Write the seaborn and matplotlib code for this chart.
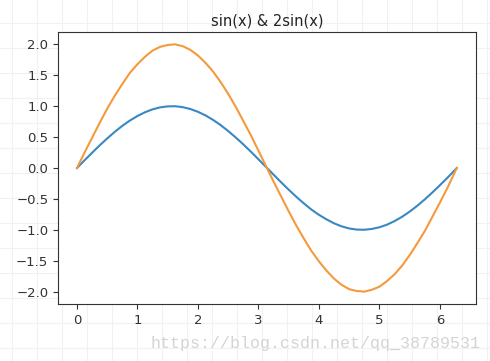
import matplotlib
matplotlib.use("Agg")
import matplotlib.pyplot as plt
from matplotlib.lines import Line2D
import pandas as pd
import seaborn as sns

# values
x_vals = [0.0, 0.125, 0.25, 0.375, 0.5, 0.625, 0.75, 0.875, 1.0, 1.125, 1.25, 1.375,
          1.5, 1.625, 1.75, 1.875, 2.0, 2.125, 2.25, 2.375, 2.5, 2.625, 2.75, 2.875,
          3.0, 3.125, 3.25, 3.375, 3.5, 3.625, 3.75, 3.875, 4.0, 4.125, 4.25, 4.375,
          4.5, 4.625, 4.75, 4.875, 5.0, 5.125, 5.25, 5.375, 5.5, 5.625, 5.75, 5.875,
          6.0, 6.125, 6.28]
sin_vals = [0.0, 0.125, 0.247, 0.366, 0.479, 0.585, 0.682, 0.768, 0.841, 0.902,
            0.949, 0.981, 0.997, 0.999, 0.984, 0.954, 0.909, 0.850, 0.778, 0.694,
            0.598, 0.493, 0.382, 0.264, 0.141, 0.017, -0.108, -0.231, -0.351,
            -0.465, -0.572, -0.672, -0.757, -0.831, -0.895, -0.944, -0.978, -0.996,
            -0.999, -0.986, -0.959, -0.917, -0.859, -0.789, -0.706, -0.612, -0.508,
            -0.396, -0.279, -0.158, 0.0]
sin2_vals = [0.0, 0.25, 0.49, 0.73, 0.96, 1.17, 1.36, 1.54, 1.68, 1.80, 1.90, 1.96,
             1.99, 2.00, 1.97, 1.91, 1.82, 1.70, 1.56, 1.39, 1.20, 0.99, 0.76, 0.53,
             0.28, 0.03, -0.22, -0.46, -0.70, -0.93, -1.14, -1.34, -1.51, -1.66,
             -1.79, -1.89, -1.96, -1.99, -2.00, -1.97, -1.92, -1.83, -1.72, -1.58,
             -1.41, -1.22, -1.02, -0.79, -0.56, -0.32, 0.0]
series_names = ["sin(x)", "2sin(x)"]
title_text = "sin(x) & 2sin(x)"
x_ticks = [0, 1, 2, 3, 4, 5, 6]
y_ticks = [-2.0, -1.5, -1.0, -0.5, 0.0, 0.5, 1.0, 1.5, 2.0]
watermark = "https://blog.csdn.net/qq_38789531"

df = pd.DataFrame({
    "x": x_vals * 2,
    "y": sin_vals + sin2_vals,
    "series": [series_names[0]] * len(x_vals) + [series_names[1]] * len(x_vals),
})

fig = plt.figure(figsize=(4.9, 3.61), dpi=100)
fig.patch.set_facecolor("white")

# faint page grid in the background
W, H = 490, 361
for px in range(12, W, 25):
    fig.add_artist(Line2D([px / W, px / W], [0, 1], transform=fig.transFigure,
                          color="#f1f1f1", lw=0.8, zorder=-10))
for py in range(23, H, 25):
    fig.add_artist(Line2D([0, 1], [1 - py / H, 1 - py / H], transform=fig.transFigure,
                          color="#f1f1f1", lw=0.8, zorder=-10))

ax = fig.add_axes([58 / W, 1 - 304 / H, (476 - 58) / W, (304 - 32) / H])
ax.set_facecolor("white")
sns.lineplot(data=df, x="x", y="y", hue="series", palette=["#3a88c2", "#f59a3c"],
             ax=ax, legend=False, linewidth=1.5)
ax.set_xlim(-0.314, 6.597)
ax.set_ylim(-2.2, 2.2)
ax.set_xticks(x_ticks)
ax.set_yticks(y_ticks)
ax.set_xlabel("")
ax.set_ylabel("")
ax.set_title(title_text, fontsize=10.5, color="#222222", pad=5)
for s in ax.spines.values():
    s.set_color("#333333")
ax.tick_params(colors="#333333", labelsize=9.5)

fig.text(150 / W, 1 - 348 / H, watermark, family="Liberation Mono", fontsize=12,
         color="#d4d4d4")

fig.savefig("out.png", dpi=100, facecolor="white")
